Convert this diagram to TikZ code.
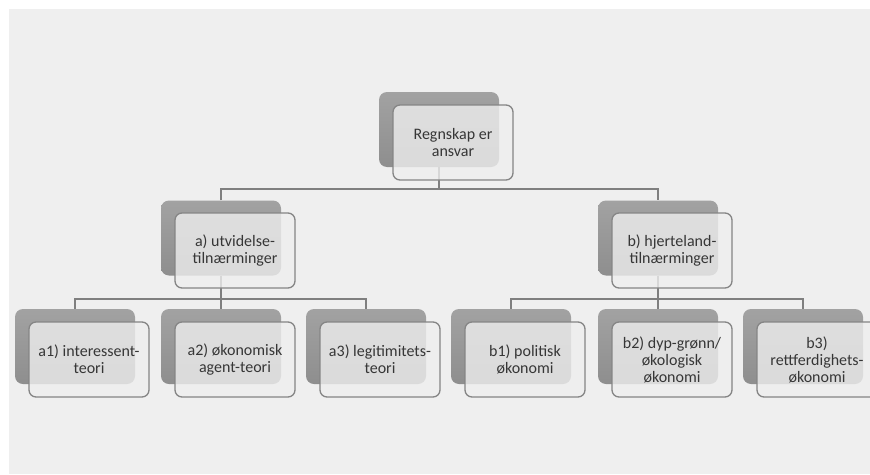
\documentclass[tikz,border=0pt]{standalone}
\usepackage{fontspec}
\setmainfont{Carlito}
\definecolor{bgpanel}{HTML}{EFEFEF}
\definecolor{linkgray}{HTML}{7F7F7F}
\definecolor{backtop}{HTML}{A2A2A2}
\definecolor{backbot}{HTML}{8E8E8E}
\definecolor{cardfill}{HTML}{EEEEEE}
\definecolor{cardedge}{HTML}{858585}
\definecolor{inktext}{HTML}{363636}
\tikzset{
  backcard/.style={rectangle, rounded corners=8pt, minimum width=120pt,
    minimum height=75pt, inner sep=0pt, top color=backtop, bottom color=backbot,
    draw=none},
  frontcard/.style={rectangle, rounded corners=7pt, minimum width=120pt,
    minimum height=75pt, inner sep=0pt, fill=cardfill, fill opacity=0.8,
    text opacity=1, draw=cardedge, line width=1.3pt, align=center,
    text=inktext, font=\fontsize{16}{17}\selectfont},
  link/.style={draw=linkgray, line width=1.4pt},
}
\begin{document}
\begin{tikzpicture}[x=1pt,y=-1pt]
\useasboundingbox (0,0) rectangle (870,474);
\clip (0,0) rectangle (870,474);
\fill[white] (0,0) rectangle (870,474);
\fill[bgpanel] (9,9) rectangle (870,474);

% bus junctions
\coordinate (busR) at (439,189);
\coordinate (busA) at (221,299);
\coordinate (busB) at (658,299);

% back cards
\node[backcard] (rootB) at (439,129.5) {};
\node[backcard] (aB) at (221,238) {};
\node[backcard] (bB) at (658,238) {};
\node[backcard] (a1B) at (75,346.5) {};
\node[backcard] (a2B) at (221,346.5) {};
\node[backcard] (a3B) at (366,346.5) {};
\node[backcard] (b1B) at (511,346.5) {};
\node[backcard] (b2B) at (658,346.5) {};
\node[backcard] (b3B) at (803,346.5) {};

% connectors
\path[link] (rootB.south) -- (busR);
\path[link] (aB.north) |- (busR) -| (bB.north);
\path[link] (aB.south) -- (busA);
\path[link] (a1B.north) |- (busA) -| (a3B.north);
\path[link] (a2B.north) -- (busA);
\path[link] (bB.south) -- (busB);
\path[link] (b1B.north) |- (busB) -| (b3B.north);
\path[link] (b2B.north) -- (busB);

% front cards with labels
\node[frontcard] (root) at (453,142.5) {Regnskap er\\ansvar};
\node[frontcard] (a) at (235,250.5) {a) utvidelse-\\tilnærminger};
\node[frontcard] (b) at (672,250.5) {b) hjerteland-\\tilnærminger};
\node[frontcard] (a1) at (89,359.5) {a1) interessent-\\teori};
\node[frontcard] (a2) at (235,359.5) {a2) økonomisk\\agent-teori};
\node[frontcard] (a3) at (380,359.5) {a3) legitimitets-\\teori};
\node[frontcard] (b1) at (525,359.5) {b1) politisk\\økonomi};
\node[frontcard] (b2) at (672,359.5) {b2) dyp-grønn/\\økologisk\\økonomi};
\node[frontcard] (b3) at (817,359.5) {b3)\\rettferdighets-\\økonomi};
\end{tikzpicture}
\end{document}
